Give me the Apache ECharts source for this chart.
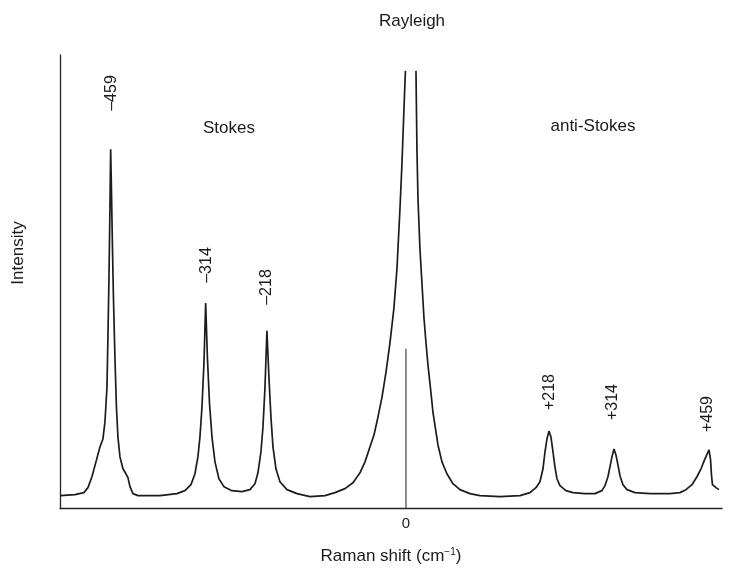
<!DOCTYPE html>
<html>
<head>
<meta charset="utf-8">
<script src="https://cdn.jsdelivr.net/npm/echarts@6/dist/echarts.min.js"></script>
<style>
html,body{margin:0;padding:0;background:#fff;}
#chart{width:753px;height:570px;}
</style>
</head>
<body>
<div id="chart"></div>
<script>
// Raman shift (cm-1)
const shiftValues = [
  -532, -509, -495.2, -489, -482.9, -476.7, -470.6, -466, -462.9, -459.8, -458.3, -456.7, -455.2, -454.1,
  -452.9, -451.3, -449.8, -447.5, -445.2, -442.9, -439.8, -435.2, -430.6, -427.5, -424.4, -419.8, -412.1,
  -378.3, -352.2, -339.9, -330.6, -324.5, -319.9, -316.8, -313.7, -310.6, -308, -305.3, -302.2, -298.3,
  -293.7, -287.6, -279.9, -267.6, -252.2, -239.9, -232.2, -227.6, -223, -219.9, -216.8, -213.8, -210.7,
  -207.6, -204.5, -199.9, -193.8, -183, -167.6, -147.6, -124.6, -109.2, -93.8, -81.5, -70.7, -63, -55.4,
  -49.2, -43.1, -36.9, -30.8, -24.6, -18.5, -13.8, -9.2, -6.2, -3.1, -0.8,
  null,
  15.4, 16.9, 18.5, 21.5, 24.6, 27.7, 30.8, 33.8, 38.4, 41.5, 49.2, 55.4, 63, 72.3, 83, 98.4, 113.8, 144.6,
  175.3, 190.7, 199.9, 206.1, 210.7, 213.8, 216.8, 219.9, 223, 226.1, 229.1, 232.2, 236.8, 246, 256.8,
  275.3, 290.6, 301.4, 306, 310.6, 313.7, 316.8, 319.9, 322.9, 326, 329.1, 333.7, 339.9, 352.2, 375.2,
  406, 421.4, 430.6, 439.8, 447.5, 453.7, 459.8, 466, 468.3, 469.8, 471.3, 476.7, 481.3
];
// Intensity (arbitrary units) at each shift
const intensityValues = [
  13, 14, 16, 21, 32, 47, 62, 70, 87, 122, 172, 232, 302, 362,
  322, 262, 212, 152, 102, 72, 52, 40, 35, 31, 22, 15, 13,
  13, 15, 18, 24, 35, 52, 72, 102, 147, 207, 152, 107, 72,
  47, 30, 22, 18, 17, 19, 25, 36, 57, 82, 122, 179, 132,
  92, 62, 40, 27, 19, 15, 12, 13, 16, 20, 26, 36, 47, 62,
  74, 92, 112, 137, 167, 202, 242, 302, 347, 402, 441,
  null,
  441, 362, 312, 262, 227, 192, 167, 145, 117, 97, 64, 47, 35, 25, 19, 15, 13, 12,
  13, 16, 21, 27, 40, 57, 70, 78, 72, 57, 42, 30, 23, 18, 16,
  15, 15, 18, 23, 32, 42, 52, 60, 54, 44, 33, 24, 19, 16, 15,
  15, 16, 19, 24, 32, 40, 50, 59, 50, 34, 24, 21, 19
];
// zero-shift marker line
const zeroLineX = [0, 0];
const zeroLineY = [0, 161];
// axis tick labels
const xTickValues = [0];
// peak annotations
const peakLabels = ['\u2013459', '\u2013314', '\u2013218', '+218', '+314', '+459'];
const regionLabels = ['Stokes', 'Rayleigh', 'anti-Stokes'];

const chart = echarts.init(document.getElementById('chart'), null, {renderer: 'canvas'});

const spectrum = shiftValues.map((x, i) => (x === null ? '-' : [x, intensityValues[i]]));
const zeroLine = zeroLineX.map((x, i) => [x, zeroLineY[i]]);

const FONT = 'Liberation Sans, Arial, Helvetica, sans-serif';
const TXT = '#1a1a1a';

// pixel positions of annotation texts
const peakLabelPos = [[112, 93], [207, 265], [267, 287], [550, 392], [613, 402], [708, 414]];
const regionLabelPos = [[229, 128], [412, 21], [593, 126]];

const graphics = [];
peakLabels.forEach((t, i) => {
  graphics.push({
    type: 'text', x: peakLabelPos[i][0], y: peakLabelPos[i][1], rotation: Math.PI / 2,
    style: {text: t, fill: TXT, font: '16px ' + FONT, align: 'center', verticalAlign: 'middle'}
  });
});
regionLabels.forEach((t, i) => {
  graphics.push({
    type: 'text', x: regionLabelPos[i][0], y: regionLabelPos[i][1],
    style: {text: t, fill: TXT, font: '17px ' + FONT, align: 'center', verticalAlign: 'middle'}
  });
});
graphics.push({
  type: 'text', x: 18, y: 253, rotation: Math.PI / 2,
  style: {text: 'Intensity', fill: TXT, font: '17px ' + FONT, align: 'center', verticalAlign: 'middle'}
});

chart.setOption({
  animation: false,
  backgroundColor: '#fff',
  grid: {left: 60, right: 31, top: 55, bottom: 58, containLabel: false},
  xAxis: {
    type: 'value', min: -532, max: 486,
    axisLine: {show: true, onZero: false, lineStyle: {color: '#222', width: 1.3}},
    axisTick: {show: false},
    splitLine: {show: false},
    axisLabel: {
      customValues: xTickValues, margin: 8, color: TXT, fontSize: 15, fontFamily: FONT
    },
    name: 'Raman shift (cm{sup|\u22121})',
    nameLocation: 'middle', nameGap: 39,
    nameTextStyle: {
      color: TXT, fontSize: 17, fontFamily: FONT,
      rich: {sup: {fontSize: 10, fontFamily: FONT, color: TXT, verticalAlign: 'top', padding: [0, 0, 8, 0]}}
    }
  },
  yAxis: {
    type: 'value', min: 0, max: 457,
    axisLine: {show: true, onZero: false, lineStyle: {color: '#222', width: 1.3}},
    axisTick: {show: false},
    axisLabel: {show: false},
    splitLine: {show: false}
  },
  series: [
    {
      type: 'line', data: spectrum, showSymbol: false, symbol: 'none', connectNulls: false,
      lineStyle: {color: '#1c1c1c', width: 1.7}, smooth: false, clip: true
    },
    {
      type: 'line', data: zeroLine, showSymbol: false, symbol: 'none',
      lineStyle: {color: '#444', width: 1.2}
    }
  ],
  graphic: graphics
});
</script>
</body>
</html>
